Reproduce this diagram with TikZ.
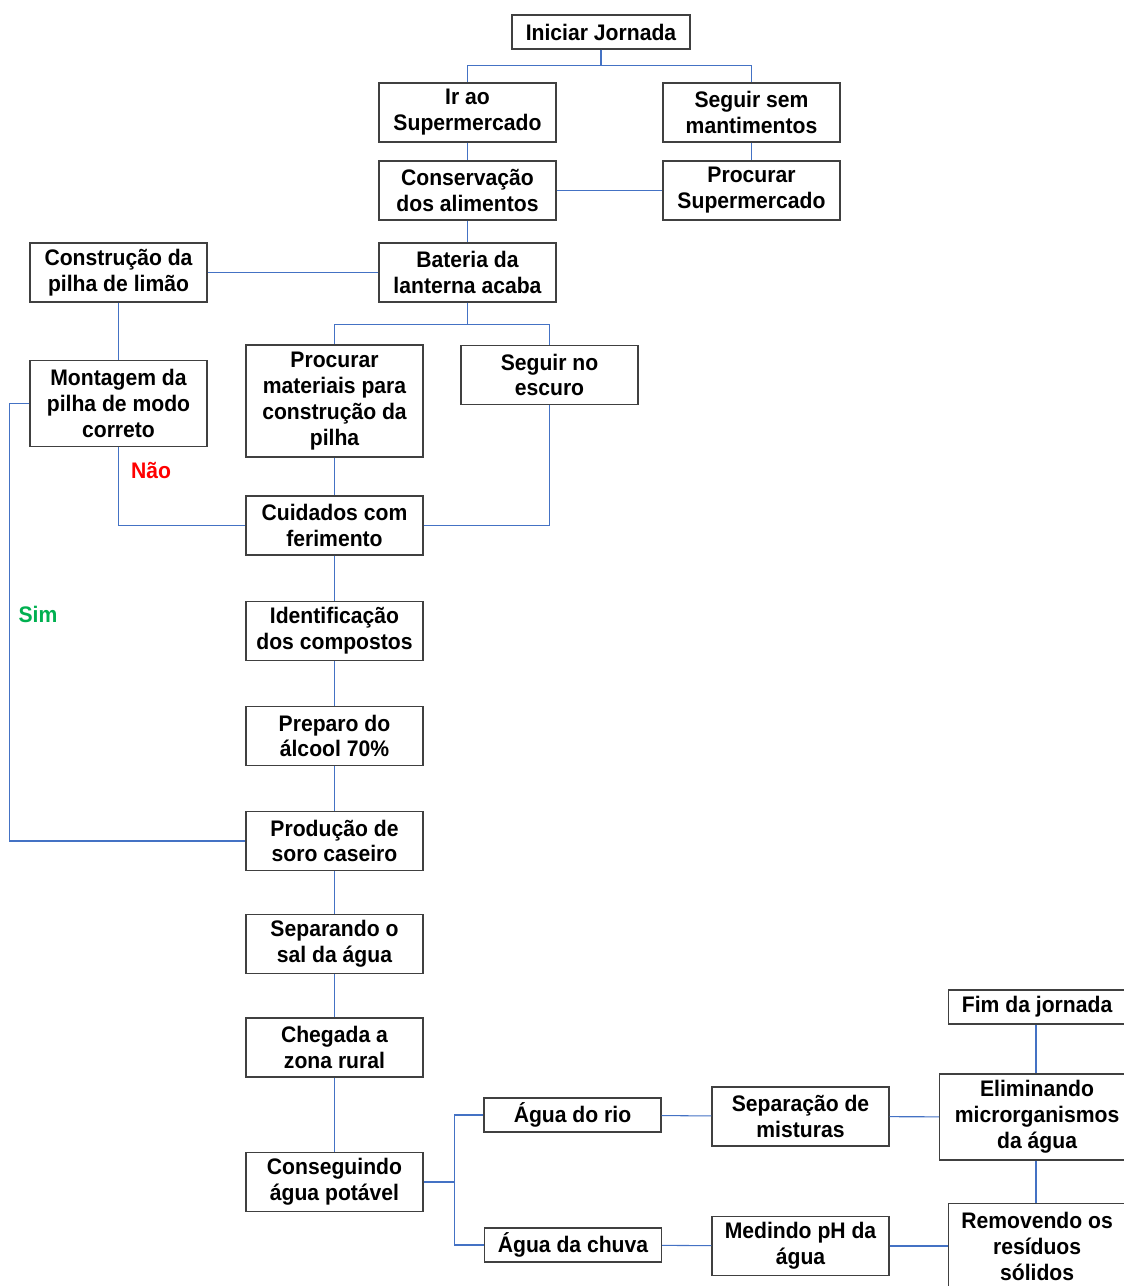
\documentclass[tikz,border=0pt]{standalone}
\usepackage{fontspec}
\setmainfont{Liberation Sans}
\newfontfamily\etapafont[FakeStretch=0.94]{Liberation Sans}
\usepackage{tikz}
\usetikzlibrary{calc}

\definecolor{linkblue}{RGB}{68,114,196}
\definecolor{boxgray}{RGB}{64,64,64}
\definecolor{naored}{RGB}{255,0,0}
\definecolor{simgreen}{RGB}{0,176,80}

\begin{document}
\begin{tikzpicture}[
    x=0.02cm, y=-0.02cm,
    % Styles for the flowchart
    etapa/.style={rectangle, draw=boxgray, line width=0.7pt, fill=white, align=center,
        font=\etapafont\fontsize{12.8}{14.7}\selectfont\bfseries, inner sep=1pt,
        minimum width=3.54cm, minimum height=1.18cm},
    baixa/.style={minimum height=0.68cm},
    alta/.style={minimum height=1.72cm},
    link/.style={draw=linkblue, line width=0.6pt},
    resposta/.style={font=\etapafont\fontsize{12.8}{14.7}\selectfont\bfseries}
]
    \useasboundingbox (0,0) rectangle (1124,1286);

    % =========================================================================
    % 1. INICIO DA JORNADA
    % =========================================================================
    \node[etapa, baixa, minimum width=3.56cm] (ini) at (601,32) {Iniciar Jornada};
    \node[etapa] (ir_super) at (467.5,112.5) {Ir ao\\Supermercado};
    \node[etapa] (seguir_sem) at (751.5,112.5) {Seguir sem\\mantimentos};
    \node[etapa] (conserva) at (467.5,190.5) {Conservação\\dos alimentos};
    \node[etapa] (proc_super) at (751.5,190.5) {Procurar\\Supermercado};

    \draw[link] (ini.south) -- ++(0,16) -| (ir_super.north);
    \draw[link] (ini.south) -- ++(0,16) -| (seguir_sem.north);
    \draw[link] (ir_super) -- (conserva);
    \draw[link] (seguir_sem) -- (proc_super);
    \draw[link] (conserva) -- (proc_super);

    % =========================================================================
    % 2. BATERIA DA LANTERNA
    % =========================================================================
    \node[etapa] (bateria) at (467.5,272.5) {Bateria da\\lanterna acaba};
    \node[etapa] (constr) at (118.5,272.5) {Construção da\\pilha de limão};
    \node[etapa, alta] (montagem) at (118.5,403.5) {Montagem da\\pilha de modo\\correto};
    \node[etapa, minimum height=2.24cm] (proc_mat) at (334.5,401) {Procurar\\materiais para\\construção da\\pilha};
    \node[etapa] (escuro) at (549.5,375) {Seguir no\\escuro};
    \node[etapa] (cuidados) at (334.5,525.5) {Cuidados com\\ferimento};

    \draw[link] (conserva) -- (bateria);
    \draw[link] (bateria) -- (constr);
    \draw[link] (constr) -- (montagem);
    \draw[link] (bateria.south) -- ++(0,22) -| (proc_mat.north);
    \draw[link] (bateria.south) -- ++(0,22) -| (escuro.north);
    \draw[link] (proc_mat) -- (cuidados);
    \draw[link] (escuro.south) |- (cuidados.east);
    \draw[link] (montagem.south) |- (cuidados.west);
    \node[resposta, text=naored] (nao) at (151,470) {Não};

    % =========================================================================
    % 3. CADEIA CENTRAL
    % =========================================================================
    \node[etapa] (ident) at (334.5,631) {Identificação\\dos compostos};
    \node[etapa] (alcool) at (334.5,736) {Preparo do\\álcool 70\%};
    \node[etapa] (soro) at (334.5,841) {Produção de\\soro caseiro};
    \node[etapa] (sal) at (334.5,944) {Separando o\\sal da água};
    \node[etapa] (rural) at (334.5,1047.5) {Chegada a\\zona rural};
    \node[etapa] (potavel) at (334.5,1182) {Conseguindo\\água potável};

    \draw[link] (cuidados) -- (ident);
    \draw[link] (ident) -- (alcool);
    \draw[link] (alcool) -- (soro);
    \draw[link] (soro) -- (sal);
    \draw[link] (sal) -- (rural);
    \draw[link] (rural) -- (potavel);

    % Caminho do "Sim"
    \draw[link] (montagem.west) -- ++(-20,0) |- (soro.west);
    \node[resposta, text=simgreen] (sim) at (38,614) {Sim};

    % =========================================================================
    % 4. TRATAMENTO DA AGUA
    % =========================================================================
    \node[etapa, baixa] (rio) at (572.5,1115) {Água do rio};
    \node[etapa, baixa] (chuva) at (573,1245) {Água da chuva};
    \node[etapa] (separa) at (800.5,1116.5) {Separação de\\misturas};
    \node[etapa] (medindo) at (800.5,1246) {Medindo pH da\\água};
    \node[etapa, alta, minimum width=3.9cm, anchor=west] (elimina) at (939,1117) {Eliminando\\microrganismos\\da água};
    \node[etapa, baixa, anchor=west] (fim) at (948,1007) {Fim da jornada};
    \node[etapa, alta, anchor=north west] (remove) at (948,1203) {Removendo os\\resíduos\\sólidos};

    \draw[link] (potavel.east) -- ++(31,0) |- (rio.west);
    \draw[link] (potavel.east) -- ++(31,0) |- (chuva.west);
    \draw[link] (rio) -- (separa);
    \draw[link] (chuva) -- (medindo);
    \draw[link] (separa) -- (elimina);
    \draw[link] (medindo.east) -- (medindo.east -| remove.west);
    \draw[link] (fim.south -| 1036,0) -- (elimina.north -| 1036,0);
    \draw[link] (elimina.south -| 1036,0) -- (remove.north -| 1036,0);

\end{tikzpicture}
\end{document}
